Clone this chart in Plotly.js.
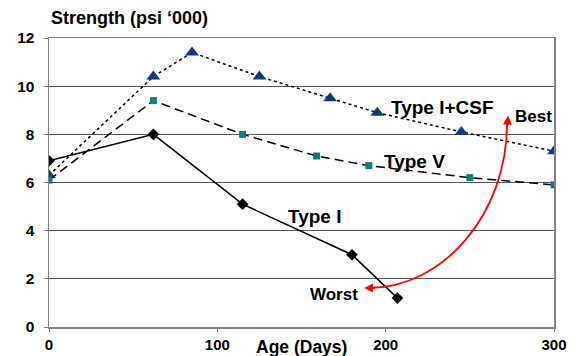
<!DOCTYPE html>
<html>
<head>
<meta charset="utf-8">
<script src="https://cdn.plot.ly/plotly-3.0.1.min.js"></script>
<style>html,body{margin:0;padding:0;background:#fff;}#chart{width:581px;height:356px;}</style>
</head>
<body>
<div id="chart"></div>
<script>
// Data
const typeIDays = [0, 62, 115, 180, 207];
const typeIStrength = [6.9, 8.0, 5.1, 3.0, 1.2];

const typeVDays = [0, 62, 115, 159, 190, 250, 300];
const typeVStrength = [6.1, 9.4, 8.0, 7.1, 6.7, 6.2, 5.9];

const csfDays = [0, 62, 85, 125, 167, 195, 245, 300];
const csfStrength = [6.3, 10.4, 11.4, 10.4, 9.5, 8.9, 8.1, 7.3];

const xTicks = [0, 100, 200, 300];
const yTicks = [0, 2, 4, 6, 8, 10, 12];

const FONT = 'Arial, "Liberation Sans", sans-serif';

const traces = [
  {
    x: csfDays, y: csfStrength, type: 'scatter', mode: 'lines+markers', name: 'Type I+CSF',
    line: {color: '#000', width: 1.5, dash: 'dot'},
    marker: {symbol: 'triangle-up', size: 12, color: '#0a3d80'}
  },
  {
    x: typeVDays, y: typeVStrength, type: 'scatter', mode: 'lines+markers', name: 'Type V',
    line: {color: '#000', width: 1.5, dash: '9px,5px'},
    marker: {symbol: 'square', size: 7, color: '#008080'}
  },
  {
    x: typeIDays, y: typeIStrength, type: 'scatter', mode: 'lines+markers', name: 'Type I',
    line: {color: '#000', width: 1.5},
    marker: {symbol: 'diamond', size: 9, color: '#000'}
  }
];

const bold = (s) => '<b>' + s + '</b>';

const layout = {
  width: 581, height: 356,
  margin: {l: 49, r: 27, t: 38, b: 29},
  paper_bgcolor: '#fff', plot_bgcolor: '#fff',
  showlegend: false,
  font: {family: FONT, color: '#000'},
  xaxis: {
    range: [0, 300], tickvals: xTicks, ticktext: xTicks.map(v => bold(v)),
    showgrid: false, zeroline: false,
    showline: true, mirror: true, linecolor: '#7f7f7f', linewidth: 1.5,
    ticks: 'outside', ticklen: 3, tickcolor: '#7f7f7f',
    tickfont: {size: 15, family: FONT, color: '#000'},
    ticklabelstandoff: 0
  },
  yaxis: {
    range: [0, 12], tickvals: yTicks, ticktext: yTicks.map(v => bold(v)),
    showgrid: true, gridcolor: '#555', gridwidth: 1, zeroline: false,
    showline: true, mirror: true, linecolor: '#7f7f7f', linewidth: 1.5,
    ticks: 'outside', ticklen: 4, tickcolor: '#7f7f7f',
    tickfont: {size: 15.5, family: FONT, color: '#000'},
    ticklabelstandoff: 6
  },
  shapes: [
    {
      type: 'path', xref: 'x', yref: 'y',
      path: 'M 272.1,8.45 C 272.1,4.69 234.1,1.62 190,1.62',
      line: {color: '#ff0000', width: 1.8}
    }
  ],
  annotations: [
    {xref: 'paper', yref: 'paper', x: 0, y: 1, xanchor: 'left', yanchor: 'middle', yshift: 20,
     text: bold('Strength (psi \u2018000)'), showarrow: false, font: {size: 18, family: FONT, color: '#000'}},
    {xref: 'paper', yref: 'paper', x: 0.5, y: 0, xanchor: 'center', yanchor: 'middle', yshift: -20,
     text: bold('Age (Days)'), showarrow: false, font: {size: 17.5, family: FONT, color: '#000'}},
    {xref: 'x', yref: 'y', x: 233.8, y: 9.1, text: bold('Type I+CSF'), showarrow: false,
     font: {size: 19, family: FONT, color: '#000'}},
    {xref: 'x', yref: 'y', x: 216.9, y: 6.86, text: bold('Type V'), showarrow: false,
     font: {size: 19, family: FONT, color: '#000'}},
    {xref: 'x', yref: 'y', x: 158, y: 4.57, text: bold('Type I'), showarrow: false,
     font: {size: 19, family: FONT, color: '#000'}},
    {xref: 'x', yref: 'y', x: 169.3, y: 1.37, text: bold('Worst'), showarrow: false,
     font: {size: 17, family: FONT, color: '#000'}},
    {xref: 'x', yref: 'y', x: 287.6, y: 8.76, text: bold('Best'), showarrow: false,
     font: {size: 17, family: FONT, color: '#000'}},
    {xref: 'x', yref: 'y', x: 272.8, y: 8.78, text: '', showarrow: true,
     ax: -1, ay: 12, arrowhead: 2, arrowsize: 1, arrowwidth: 1.8, arrowcolor: '#ff0000'},
    {xref: 'x', yref: 'y', x: 187.2, y: 1.62, text: '', showarrow: true,
     ax: 12, ay: 0, arrowhead: 2, arrowsize: 1, arrowwidth: 1.8, arrowcolor: '#ff0000'}
  ]
};

Plotly.newPlot('chart', traces, layout, {displayModeBar: false, staticPlot: true});
</script>
</body>
</html>
